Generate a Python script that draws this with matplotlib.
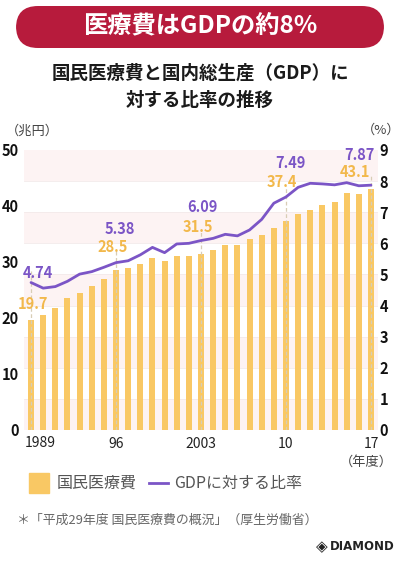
import matplotlib
matplotlib.use('Agg')
import matplotlib.pyplot as plt
from matplotlib.patches import FancyBboxPatch, Rectangle
from matplotlib.lines import Line2D

plt.rcParams['font.family'] = ['Noto Sans CJK JP', 'DejaVu Sans']

# 国民医療費（兆円）と GDP に対する比率（%）
years = list(range(1989, 2018))
cost = [19.7, 20.6, 21.8, 23.5, 24.4, 25.8, 27.0, 28.5, 28.9, 29.6,
        30.7, 30.1, 31.1, 31.0, 31.5, 32.1, 33.1, 33.1, 34.1, 34.8,
        36.0, 37.4, 38.6, 39.2, 40.1, 40.8, 42.4, 42.1, 43.1]
ratio = [4.74, 4.56, 4.61, 4.78, 5.01, 5.09, 5.23, 5.38, 5.44, 5.63,
         5.87, 5.70, 5.98, 6.00, 6.09, 6.16, 6.29, 6.24, 6.43, 6.77,
         7.29, 7.49, 7.80, 7.93, 7.91, 7.88, 7.95, 7.85, 7.87]
tick_years = [1989, 1996, 2003, 2010, 2017]
tick_labels = ['1989', '96', '2003', '10', '17']

# label offsets in pixels (line label, bar label) for highlighted years
line_off = [(7, 10), (4, 34), (1, 34), (4, 34), (-12, 30)]
bar_off = [(2, 16), (-3, 23), (-3, 27), (-4, 39), (-16, 17)]

bar_col = '#F9C864'
bar_txt = '#F2B84B'
line_col = '#7B55C6'
red = '#B71B3C'

fig = plt.figure(figsize=(4.0, 5.67), dpi=100)

# title banner
banner = FancyBboxPatch((0.04, 1 - 48 / 567), 0.92, 42 / 567,
                        boxstyle='round,pad=0,rounding_size=0.055',
                        transform=fig.transFigure, facecolor=red,
                        edgecolor='none', mutation_aspect=400 / 567)
fig.patches.append(banner)
fig.text(0.5, 1 - 26 / 567, '医療費はGDPの約8%', color='white', fontsize=17.5,
         fontweight='bold', ha='center', va='center')
fig.text(0.5, 1 - 73 / 567, '国民医療費と国内総生産（GDP）に', fontsize=13.3,
         fontweight='bold', ha='center', va='center', color='#1a1a1a')
fig.text(0.5, 1 - 100 / 567, '対する比率の推移', fontsize=13.3,
         fontweight='bold', ha='center', va='center', color='#1a1a1a')
fig.text(32 / 400, 1 - 131 / 567, '（兆円）', fontsize=9.5, ha='center',
         va='center', color='#444444')
fig.text(381 / 400, 1 - 130 / 567, '（%）', fontsize=9.5, ha='center',
         va='center', color='#444444')

ax = fig.add_axes([24 / 400, 1 - 430 / 567, 354 / 400, 280 / 567])
ax2 = ax.twinx()

x = [y - 1989 for y in years]
ax.set_xlim(-0.58, 28.58)
ax.set_ylim(0, 50)
ax2.set_ylim(0, 9)

# faint background bands following the right axis
for k in range(9):
    if k % 2 == 0:
        ax.axhspan((8 - k) * 50 / 9, (9 - k) * 50 / 9, color='#FDF3F3', zorder=0, lw=0)
    ax.axhline(k * 50 / 9, color='#F3EAEA', lw=0.6, zorder=0.5)

ax.bar(x, cost, width=0.5, color=bar_col, zorder=2)

for i, ty in enumerate(tick_years):
    idx = years.index(ty)
    top = ratio[idx] * 50 / 9 + 2
    ax.vlines(idx, 0, top, colors='#D8CDB5', linestyles=(0, (3, 2)), lw=0.9, zorder=3)
    ax2.annotate(f'{ratio[idx]:.2f}', (idx, ratio[idx]), xytext=line_off[i],
                 textcoords='offset pixels', ha='center', va='center',
                 color=line_col, fontsize=10.5, fontweight='bold')
    ax.annotate(f'{cost[idx]:.1f}', (idx, cost[idx]), xytext=bar_off[i],
                textcoords='offset pixels', ha='center', va='center',
                color=bar_txt, fontsize=10.5, fontweight='bold', zorder=5)

ax2.plot(x, ratio, color=line_col, lw=2.0, zorder=4, solid_capstyle='round')

ax.set_xticks([t - 1989 for t in tick_years])
# first year label drawn separately, nudged right so it clears the "0"
ax.set_xticklabels([''] + tick_labels[1:], fontsize=10, color='#222222')
ax.annotate(tick_labels[0], (0, 0), xytext=(-6, -13), textcoords='offset pixels',
            ha='left', va='center', fontsize=10, color='#222222',
            annotation_clip=False)
ax.set_yticks(range(0, 51, 10))
ax.set_yticklabels([str(v) for v in range(0, 51, 10)], fontsize=10.5,
                   fontweight='bold', color='#111111')
ax2.set_yticks(range(0, 10))
ax2.set_yticklabels([str(v) for v in range(0, 10)], fontsize=10.5,
                    fontweight='bold', color='#111111')
ax.tick_params(axis='x', length=0, pad=5)
ax.tick_params(axis='y', length=0, pad=4)
ax2.tick_params(axis='y', length=0, pad=1)
for a in (ax, ax2):
    for s in a.spines.values():
        s.set_visible(False)
ax2.patch.set_visible(False)

fig.text(366 / 400, 1 - 462 / 567, '（年度）', fontsize=9.5, ha='center',
         va='center', color='#444444')

# legend
fig.patches.append(Rectangle((29 / 400, 1 - 493 / 567), 20 / 400, 20 / 567,
                             transform=fig.transFigure, color=bar_col))
fig.text(57 / 400, 1 - 483 / 567, '国民医療費', fontsize=11.5, va='center',
         color='#555555')
fig.lines.append(Line2D([149 / 400, 168 / 400], [1 - 483 / 567, 1 - 483 / 567],
                        transform=fig.transFigure, color=line_col, lw=2))
fig.text(174 / 400, 1 - 483 / 567, 'GDPに対する比率', fontsize=11.5, va='center',
         color='#555555')

fig.text(17 / 400, 1 - 520 / 567, '＊「平成29年度 国民医療費の概況」（厚生労働省）',
         fontsize=9.3, va='center', color='#666666')

# logo
fig.text(322 / 400, 1 - 547 / 567, '◈', fontsize=11, ha='center', va='center',
         color='#222222', family=['DejaVu Sans'])
fig.text(330 / 400, 1 - 547 / 567, 'DIAMOND', fontsize=8.5, fontweight='bold',
         va='center', color='#222222', family=['DejaVu Sans'])

fig.savefig('out.png', dpi=100)
